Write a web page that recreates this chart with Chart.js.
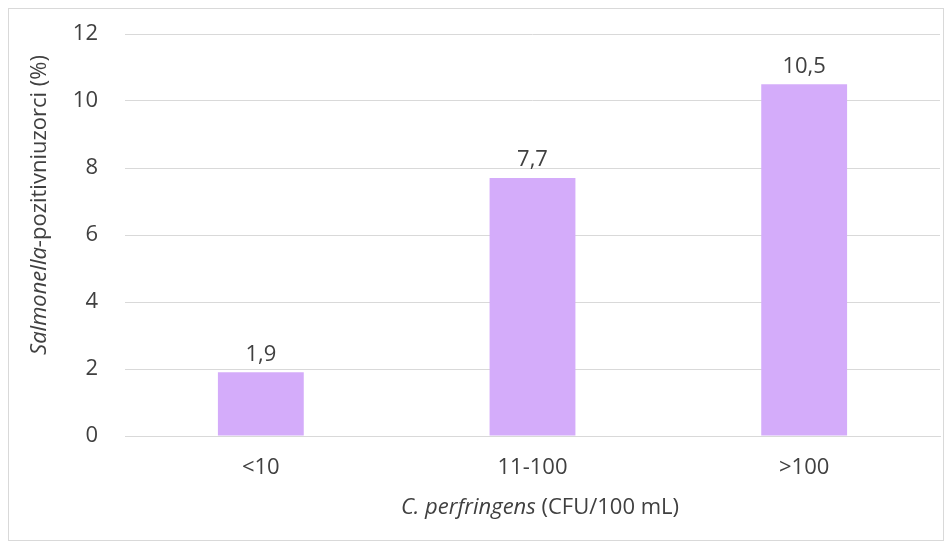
<!DOCTYPE html>
<html>
<head>
<meta charset="utf-8">
<script src="https://cdn.jsdelivr.net/npm/chart.js@4.4.1/dist/chart.umd.min.js"></script>
<style>
  html, body { margin: 0; padding: 0; background: #fff; }
  #wrap {
    position: absolute; left: 8px; top: 8px;
    width: 934px; height: 531px;
    border: 1px solid #d9d9d9;
  }
</style>
</head>
<body>
<div id="wrap"><canvas id="chart"></canvas></div>
<script>
const categories = ['<10', '11-100', '>100'];
const positivePct = [1.9, 7.7, 10.5];
const yTicks = [0, 2, 4, 6, 8, 10, 12];

const FONT = "'Open Sans', sans-serif";
const TEXT = '#404040';
const SIZE = 22;

// value labels + axis titles with mixed italic text
const labelsPlugin = {
    id: 'labels',
    afterDatasetsDraw(chart) {
        const ctx = chart.ctx;
        const meta = chart.getDatasetMeta(0);
        ctx.save();
        ctx.font = SIZE + 'px ' + FONT;
        ctx.fillStyle = TEXT;
        ctx.textAlign = 'center';
        ctx.textBaseline = 'middle';
        meta.data.forEach((bar, i) => {
            ctx.fillText(positivePct[i].toFixed(1).replace('.', ','), bar.x, bar.y - 18);
        });
        ctx.restore();
    },
    afterDraw(chart) {
        const ctx = chart.ctx;
        const drawMixed = (parts, cx, cy) => {
            let total = 0;
            parts.forEach(p => { ctx.font = p.font; total += ctx.measureText(p.text).width; });
            let x = cx - total / 2;
            parts.forEach(p => {
                ctx.font = p.font;
                ctx.fillText(p.text, x, cy);
                x += ctx.measureText(p.text).width;
            });
        };
        ctx.save();
        ctx.fillStyle = TEXT;
        ctx.textAlign = 'left';
        ctx.textBaseline = 'middle';
        // x title
        drawMixed([
            { text: 'C. perfringens', font: 'italic ' + SIZE + 'px ' + FONT },
            { text: ' (CFU/100 mL)', font: SIZE + 'px ' + FONT }
        ], 531, 499);
        // y title
        ctx.translate(31, 196);
        ctx.rotate(-Math.PI / 2);
        drawMixed([
            { text: 'Salmonella', font: 'italic ' + SIZE + 'px ' + FONT },
            { text: '-pozitivniuzorci (%)', font: SIZE + 'px ' + FONT }
        ], 0, 0);
        ctx.restore();
    }
};

new Chart(document.getElementById('chart'), {
    type: 'bar',
    data: {
        labels: categories,
        datasets: [{
            data: positivePct,
            backgroundColor: '#d4acfa',
            categoryPercentage: 0.316,
            barPercentage: 1
        }]
    },
    options: {
        responsive: true, maintainAspectRatio: false,
        animation: false,
        layout: { padding: { top: 25, right: 3, left: 0, bottom: 0 } },
        plugins: { legend: { display: false }, tooltip: { enabled: false } },
        scales: {
            x: {
                grid: { display: false, drawTicks: false },
                border: { color: '#d9d9d9' },
                ticks: { color: TEXT, font: { family: FONT, size: SIZE }, padding: 19 },
                afterFit: s => { s.height = 104; s.paddingLeft = 0; s.paddingRight = 0; }
            },
            y: {
                min: 0, max: 12,
                afterBuildTicks: s => { s.ticks = yTicks.map(v => ({ value: v })); },
                grid: { color: '#d9d9d9', drawTicks: false },
                border: { display: false },
                ticks: { color: TEXT, font: { family: FONT, size: SIZE }, padding: 27 },
                afterFit: s => { s.width = 116; s.paddingTop = 0; s.paddingBottom = 0; }
            }
        }
    },
    plugins: [labelsPlugin]
});
</script>
</body>
</html>
